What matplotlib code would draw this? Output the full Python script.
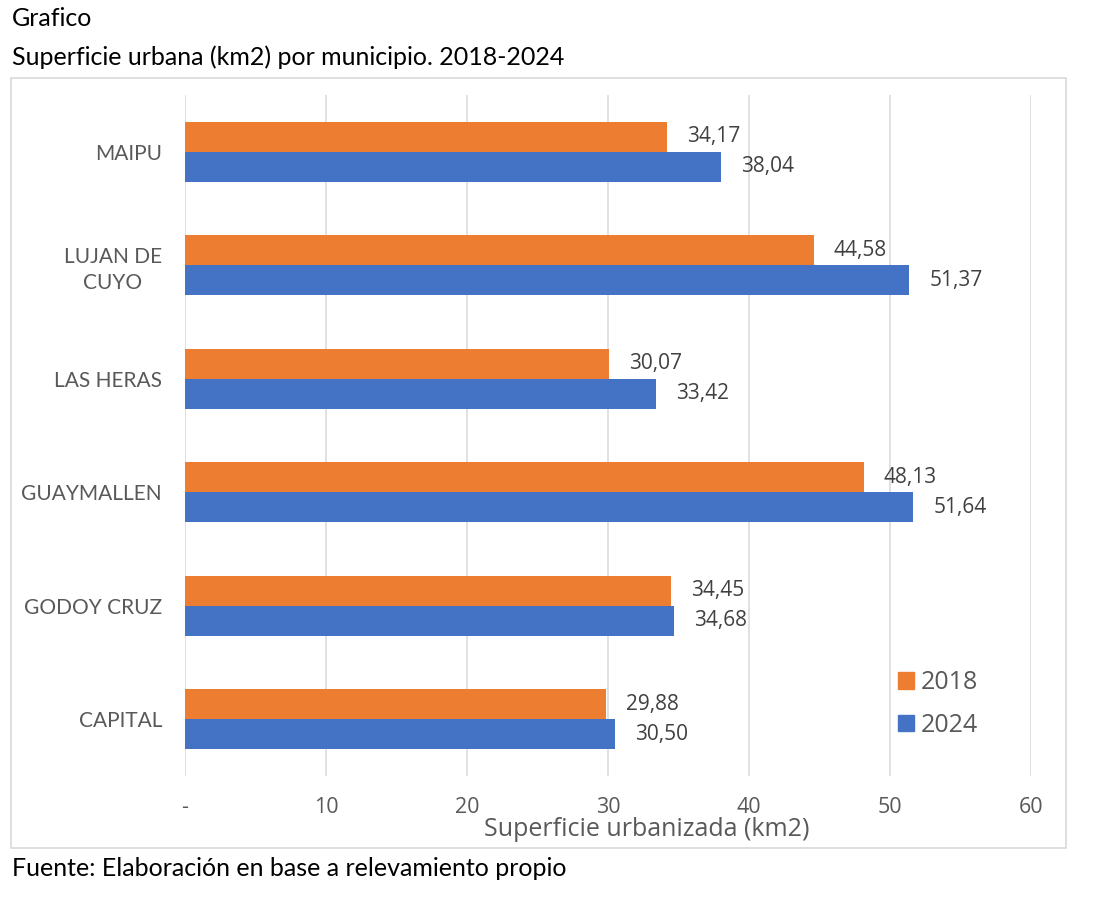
import matplotlib.pyplot as plt
from matplotlib.patches import Patch, Rectangle
from matplotlib.ticker import FuncFormatter

# data, listed top to bottom as in the chart
municipios = ["MAIPU", "LUJAN DE\nCUYO", "LAS HERAS", "GUAYMALLEN", "GODOY CRUZ", "CAPITAL"]
sup_2018 = [34.17, 44.58, 30.07, 48.13, 34.45, 29.88]
sup_2024 = [38.04, 51.37, 33.42, 51.64, 34.68, 30.50]
x_ticks = [0, 10, 20, 30, 40, 50, 60]

W, H = 1094, 899
ORANGE = "#ED7D31"
BLUE = "#4472C4"
GRID = "#D9D9D9"
TXT = "#595959"


def fx(px):
    return px / W


def fy(py):
    return 1 - py / H


def fmt_num(v):
    return f"{v:.2f}".replace(".", ",")


fig = plt.figure(figsize=(W / 100, H / 100), dpi=100)
fig.patch.set_facecolor("white")

# chart area frame
fig.patches.append(
    Rectangle((fx(11), fy(848)), fx(1066) - fx(11), fy(78) - fy(848),
              transform=fig.transFigure, fill=False, edgecolor=GRID, linewidth=1.2)
)

ax = fig.add_axes([fx(185), fy(776), fx(1031) - fx(185), fy(95) - fy(776)])

n = len(municipios)
ypos = list(range(n - 1, -1, -1))
h = 0.264
ax.barh([y + h / 2 for y in ypos], sup_2018, height=h, color=ORANGE, label="2018", zorder=3)
ax.barh([y - h / 2 for y in ypos], sup_2024, height=h, color=BLUE, label="2024", zorder=3)

for y, a, b in zip(ypos, sup_2018, sup_2024):
    ax.annotate(fmt_num(a), (a, y + h / 2), xytext=(14.5, 0), textcoords="offset points",
                ha="left", va="center", fontsize=15, family="Open Sans", color="#404040")
    ax.annotate(fmt_num(b), (b, y - h / 2), xytext=(14.5, 0), textcoords="offset points",
                ha="left", va="center", fontsize=15, family="Open Sans", color="#404040")

ax.set_xlim(0, 60)
ax.set_ylim(-0.5, n - 0.5)
ax.set_xticks(x_ticks)
ax.xaxis.set_major_formatter(FuncFormatter(lambda v, p: "-" if v == 0 else f"{v:.0f}"))
ax.set_yticks(ypos)
ax.set_yticklabels(municipios)
ax.grid(axis="x", color=GRID, linewidth=1.1, zorder=0)
ax.set_axisbelow(True)
for s in ax.spines.values():
    s.set_visible(False)

ax.tick_params(axis="x", length=0, pad=15, labelsize=15.5, labelcolor=TXT)
ax.tick_params(axis="y", length=0, pad=16.5, labelsize=15, labelcolor=TXT)
for lab in ax.get_xticklabels():
    lab.set_family("Open Sans")
for lab in ax.get_yticklabels():
    lab.set_family("Lato")
    lab.set_multialignment("center")
    lab.set_linespacing(1.35)

# axis title
fig.text(fx(647), fy(829), "Superficie urbanizada (km2)", ha="center", va="center",
         fontsize=18, family="Open Sans", color=TXT)

# legend
handles = [Patch(color=ORANGE, label="2018"), Patch(color=BLUE, label="2024")]
fig.legend(handles=handles, loc="center left", bbox_to_anchor=(fx(875), fy(704)),
           frameon=False, handlelength=0.64, handleheight=0.64,
           handletextpad=0.3, labelspacing=0.7, prop={"family": "Open Sans", "size": 18},
           labelcolor=TXT)

# titles and source
fig.text(fx(12), fy(19), "Grafico", ha="left", va="center", fontsize=18, family="Lato", color="black")
fig.text(fx(12), fy(57), "Superficie urbana (km2) por municipio. 2018-2024", ha="left", va="center",
         fontsize=18, family="Lato", color="black")
fig.text(fx(12), fy(868), "Fuente: Elaboración en base a relevamiento propio", ha="left", va="center",
         fontsize=18, family="Lato", color="black")

fig.savefig("out.png", dpi=100, facecolor="white")
